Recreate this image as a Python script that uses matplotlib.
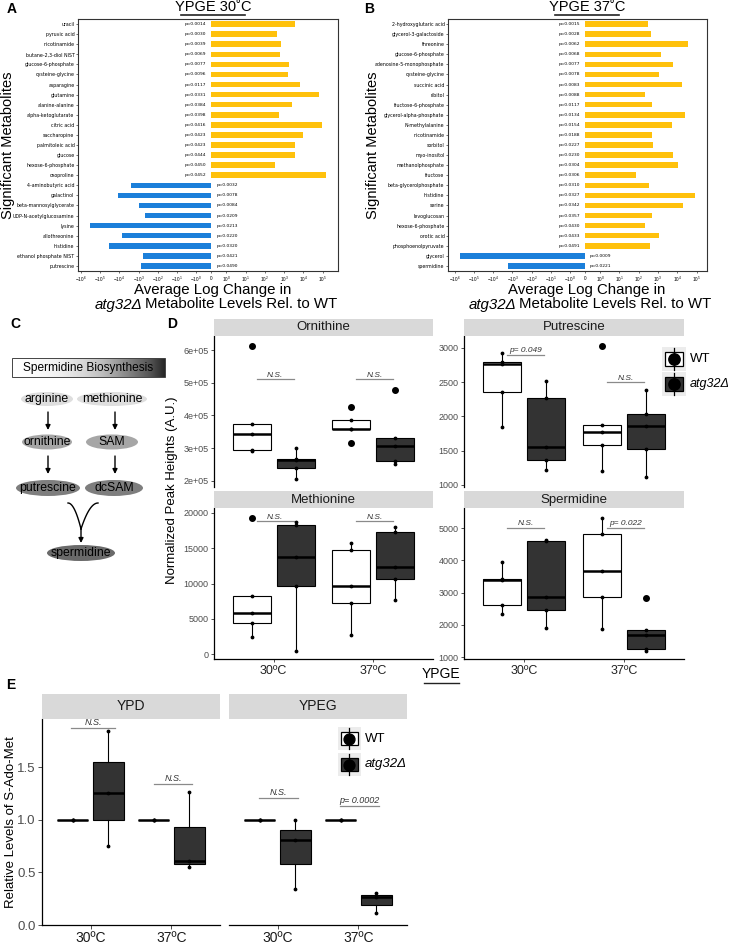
import numpy as np
import matplotlib.pyplot as plt
from matplotlib.patches import Ellipse, Rectangle

plt.rcParams['font.family'] = ['Liberation Sans', 'DejaVu Sans']

W, H = 729, 949

# ---------------- data ----------------
a_names = ['uracil', 'pyruvic acid', 'nicotinamide', 'butane-2,3-diol NIST', 'glucose-6-phosphate',
           'cysteine-glycine', 'asparagine', 'glutamine', 'alanine-alanine', 'alpha-ketoglutarate',
           'citric acid', 'saccharopine', 'palmitoleic acid', 'glucose', 'hexose-6-phosphate',
           'oxoproline', '4-aminobutyric acid', 'galactinol', 'beta-mannosylglycerate',
           'UDP-N-acetylglucosamine', 'lysine', 'allothreonine', 'histidine',
           'ethanol phosphate NIST', 'putrescine']
a_vals = [3900, 440, 710, 630, 1900, 1650, 7100, 63000, 2700, 560, 91000, 10000, 3900, 3500, 350,
          150000, -2600, -12000, -1000, -450, -340000, -6900, -35000, -570, -720]
a_pvals = ['0.0014', '0.0030', '0.0039', '0.0069', '0.0077', '0.0096', '0.0117', '0.0331', '0.0384',
           '0.0398', '0.0416', '0.0423', '0.0423', '0.0444', '0.0450', '0.0452', '0.0032', '0.0078',
           '0.0084', '0.0209', '0.0213', '0.0220', '0.0320', '0.0421', '0.0490']

b_names = ['2-hydroxyglutaric acid', 'glycerol-3-galactoside', 'threonine', 'glucose-6-phosphate',
           'adenosine-5-monophosphate', 'cysteine-glycine', 'succinic acid', 'ribitol',
           'fructose-6-phosphate', 'glycerol-alpha-phosphate', 'N-methylalanine', 'nicotinamide',
           'sorbitol', 'myo-inositol', 'methanolphosphate', 'fructose', 'beta-glycerolphosphate',
           'histidine', 'serine', 'levoglucosan', 'hexose-6-phosphate', 'orotic acid',
           'phosphoenolpyruvate', 'glycerol', 'spermidine']
b_vals = [300, 440, 35000, 1500, 6300, 1150, 17000, 210, 490, 24000, 5600, 490, 560, 6300, 11500,
          71, 350, 80000, 19000, 490, 210, 1150, 390, -540000, -1660]
b_pvals = ['0.0015', '0.0028', '0.0062', '0.0068', '0.0077', '0.0078', '0.0083', '0.0088', '0.0117',
           '0.0134', '0.0154', '0.0188', '0.0227', '0.0230', '0.0304', '0.0306', '0.0310', '0.0327',
           '0.0342', '0.0357', '0.0430', '0.0433', '0.0491', '0.0009', '0.0221']

temps = ['30ºC', '37ºC']

# panel D: observations per temperature (30, 37)
orn_wt = [[290000, 295000, 343000, 374000, 612000], [315000, 358000, 359000, 385000, 426000]]
orn_atg = [[206000, 240000, 265000, 268000, 300000], [252000, 260000, 305000, 330000, 477000]]
put_wt = [[1850, 2350, 2770, 2800, 2930], [1200, 1580, 1780, 1870, 3030]]
put_atg = [[1220, 1370, 1550, 2270, 2520], [1110, 1520, 1860, 2030, 2390]]
met_wt = [[2400, 4400, 5800, 8200, 19300], [2700, 7200, 9600, 14700, 15800]]
met_atg = [[500, 9600, 13700, 18300, 18700], [7600, 10600, 12300, 17300, 18000]]
spd_wt = [[2350, 2620, 3400, 3420, 3950], [1880, 2870, 3680, 4800, 5300]]
spd_atg = [[1900, 2450, 2870, 4600, 4620], [1200, 1250, 1680, 1830, 2840]]

# panel E
ypd_wt = [[1.0, 1.0, 1.0], [1.0, 1.0, 1.0]]
ypd_atg = [[0.75, 1.25, 1.84], [0.55, 0.61, 1.26]]
ypeg_wt = [[1.0, 1.0, 1.0], [1.0, 1.0, 1.0]]
ypeg_atg = [[0.34, 0.81, 1.0], [0.11, 0.27, 0.30]]

YELLOW = '#FFC10C'
BLUE = '#1B7FDA'
DARK = '#333333'
STRIP = '#d9d9d9'
TICKC = '#4d4d4d'

fig = plt.figure(figsize=(W / 100, H / 100), dpi=100)


def px_axes(x0, y0, x1, y1):
    return fig.add_axes([x0 / W, 1 - y1 / H, (x1 - x0) / W, (y1 - y0) / H])


# ---------------- A / B bar panels ----------------
def bar_panel(ax, names, vals, pvals, xlim):
    y = np.arange(len(names))
    vals = np.array(vals, dtype=float)
    colors = [YELLOW if v > 0 else BLUE for v in vals]
    ax.barh(y, vals, height=0.55, color=colors)
    ax.set_xscale('symlog', linthresh=1, linscale=0.7)
    ax.set_xticks([-1e6, -1e5, -1e4, -1e3, -1e2, -1e1, -1, 0, 1, 1e1, 1e2, 1e3, 1e4, 1e5])
    ax.set_xlim(*xlim)
    ax.set_ylim(len(names) - 0.5, -0.5)
    ax.set_yticks(y)
    ax.set_yticklabels(names, fontsize=3.4, family='DejaVu Sans')
    for lab in ax.get_xticklabels():
        lab.set_fontsize(3.4)
    ax.tick_params(length=1.5, width=0.4, pad=1)
    for s in ax.spines.values():
        s.set_linewidth(0.8)
        s.set_color('#333333')
    for yi, v, p in zip(y, vals, pvals):
        if v > 0:
            ax.annotate('p=' + p, (0, yi), xytext=(-3.5, 0), textcoords='offset points',
                        ha='right', va='center', fontsize=3.2, family='DejaVu Sans')
        else:
            ax.annotate('p=' + p, (0, yi), xytext=(3.5, 0), textcoords='offset points',
                        ha='left', va='center', fontsize=3.2, family='DejaVu Sans')


axA = px_axes(78, 19, 338, 271)
bar_panel(axA, a_names, a_vals, a_pvals, (-1.4e6, 6.3e5))
axB = px_axes(448, 19, 707, 271)
bar_panel(axB, b_names, b_vals, b_pvals, (-2.2e6, 3.5e5))


# ---------------- D / E box panels ----------------
def draw_box(ax, data, pos, color, width, fsize):
    ax.boxplot([data], positions=[pos], widths=width, patch_artist=True, whis=1.5,
               manage_ticks=False,
               boxprops=dict(facecolor=color, edgecolor='black', linewidth=0.8),
               medianprops=dict(color='black', linewidth=1.8),
               whiskerprops=dict(color='black', linewidth=0.8),
               capprops=dict(linewidth=0),
               flierprops=dict(marker='o', markerfacecolor='black', markeredgecolor='black',
                               markersize=fsize))
    ax.scatter([pos] * len(data), data, s=3, color='black', zorder=3)


def box_panel(ax, wt, atg, ylim, yticks, ylabels, bottom, tsize, fsize, left=True):
    for i in range(len(wt)):
        draw_box(ax, wt[i], i + 1 - 0.22, 'white', 0.38, fsize)
        draw_box(ax, atg[i], i + 1 + 0.22, DARK, 0.38, fsize)
    ax.set_xlim(0.4, 2.6)
    ax.set_ylim(*ylim)
    ax.spines['top'].set_visible(False)
    ax.spines['right'].set_visible(False)
    ax.patch.set_alpha(0)
    if left:
        ax.set_yticks(yticks)
        ax.set_yticklabels(ylabels, fontsize=tsize, color=TICKC)
    else:
        ax.spines['left'].set_visible(False)
        ax.set_yticks([])
    if bottom:
        ax.set_xticks([1, 2])
        ax.set_xticklabels(temps, fontsize=tsize + 2.5, color='#222222')
    else:
        ax.spines['bottom'].set_visible(False)
        ax.set_xticks([])
    for s in ax.spines.values():
        s.set_linewidth(0.9)
    ax.tick_params(length=2.5, width=0.6, color='#333333', pad=1.5)


def sig(ax, xc, y, label, lo, hi, size):
    ax.plot([xc - lo, xc + hi], [y, y], color='#8a8a8a', lw=0.9)
    ax.annotate(label, ((2 * xc - lo + hi) / 2, y), xytext=(0, 0.5), textcoords='offset points',
                ha='center', va='bottom', fontsize=size, style='italic', color='#333333')


axO = px_axes(214, 336, 433, 487)
box_panel(axO, orn_wt, orn_atg, (1.81e5, 6.43e5), [2e5, 3e5, 4e5, 5e5, 6e5],
          ['2e+05', '3e+05', '4e+05', '5e+05', '6e+05'], False, 6.5, 4)
sig(axO, 1, 5.1e5, 'N.S.', 0.17, 0.2, 6)
sig(axO, 2, 5.1e5, 'N.S.', 0.17, 0.2, 6)

axP = px_axes(464, 336, 684, 487)
box_panel(axP, put_wt, put_atg, (970, 3175), [1000, 1500, 2000, 2500, 3000],
          ['1000', '1500', '2000', '2500', '3000'], False, 6.5, 4)
sig(axP, 1, 2900, 'p= 0.049', 0.17, 0.2, 6)
sig(axP, 2, 2500, 'N.S.', 0.17, 0.2, 6)

axM = px_axes(214, 508, 433, 659)
box_panel(axM, met_wt, met_atg, (-700, 20700), [0, 5000, 10000, 15000, 20000],
          ['0', '5000', '10000', '15000', '20000'], True, 6.5, 4)
sig(axM, 1, 18800, 'N.S.', 0.17, 0.2, 6)
sig(axM, 2, 18800, 'N.S.', 0.17, 0.2, 6)

axS = px_axes(464, 508, 684, 659)
box_panel(axS, spd_wt, spd_atg, (940, 5620), [1000, 2000, 3000, 4000, 5000],
          ['1000', '2000', '3000', '4000', '5000'], True, 6.5, 4)
sig(axS, 1, 5000, 'N.S.', 0.17, 0.2, 6)
sig(axS, 2, 5000, 'p= 0.022', 0.17, 0.2, 6)

axE1 = px_axes(42, 719, 220, 925)
box_panel(axE1, ypd_wt, ypd_atg, (0, 1.956), [0, 0.5, 1.0, 1.5],
          ['0.0', '0.5', '1.0', '1.5'], True, 9.5, 4.5)
sig(axE1, 1, 1.87, 'N.S.', 0.24, 0.3, 6.5)
sig(axE1, 2, 1.34, 'N.S.', 0.22, 0.26, 6.5)

axE2 = px_axes(229, 719, 407, 925)
box_panel(axE2, ypeg_wt, ypeg_atg, (0, 1.956), [], [], True, 9.5, 4.5, left=False)
sig(axE2, 1, 1.21, 'N.S.', 0.23, 0.25, 6.5)
sig(axE2, 2, 1.13, 'p= 0.0002', 0.23, 0.25, 6.5)
for a in (axE1, axE2):
    a.tick_params(length=3)
    for lab in a.get_xticklabels():
        lab.set_fontsize(10)
        lab.set_color('#1a1a1a')

# ---------------- overlay (labels, diagram, legends) ----------------
ov = fig.add_axes([0, 0, 1, 1], zorder=10)
ov.axis('off')
ov.set_xlim(0, W)
ov.set_ylim(H, 0)
renderer = fig.canvas.get_renderer()


def txt(x, y, s, **kw):
    kw.setdefault('ha', 'center')
    kw.setdefault('va', 'center')
    return ov.text(x, y, s, **kw)


def mixed(x, y, parts, fontsize, gap=3):
    # centred line made of pieces with their own font style, on one baseline
    pieces = [txt(0, y, s, fontsize=fontsize, style=st, ha='left', va='baseline')
              for s, st in parts]
    widths = [p.get_window_extent(renderer).width for p in pieces]
    cur = x - (sum(widths) + gap * (len(widths) - 1)) / 2
    for p, w in zip(pieces, widths):
        p.set_x(cur)
        cur += w + gap


def underline(x0, x1, y, lw=1.0):
    ov.plot([x0, x1], [y, y], color='#222222', lw=lw)


# panel letters
for lx, ly, l in [(12, 9, 'A'), (369, 9, 'B'), (15, 324, 'C'), (172, 324, 'D'), (11, 685, 'E')]:
    txt(lx, ly, l, fontsize=10, fontweight='bold')

# A / B titles and labels
for cx, t in [(213, 'YPGE 30˚C'), (587, 'YPGE 37˚C')]:
    txt(cx, 7, t, fontsize=10.5)
    underline(cx - 32, cx + 32, 14.5, 1.2)
    txt(cx, 290, 'Average Log Change in', fontsize=10.8)
    mixed(cx + 3, 308.5, [('atg32Δ', 'italic'), ('Metabolite Levels Rel. to WT', 'normal')], 10.8)
txt(8, 145, 'Significant Metabolites', fontsize=10.5, rotation=90)
txt(373, 145, 'Significant Metabolites', fontsize=10.5, rotation=90)

# panel C diagram
grad = np.linspace(0, 1, 256) ** 1.6
ov.imshow(grad[None, :], cmap='Greys', vmin=0, vmax=1.15, aspect='auto',
          extent=(12, 165, 377, 358), zorder=1)
ov.add_patch(Rectangle((12, 358), 153, 19, fill=False, edgecolor='#444444', lw=0.7, zorder=2))
txt(88, 367.5, 'Spermidine Biosynthesis', fontsize=8.6, zorder=3)

ellipses = [(47, 399, 52, 14, '#dedede', 'arginine'), (112, 399, 70, 14, '#dedede', 'methionine'),
            (47, 442, 50, 15, '#a6a6a6', 'ornithine'), (112, 442, 52, 15, '#a6a6a6', 'SAM'),
            (48, 488, 64, 16, '#7e7e7e', 'putrescine'), (114, 488, 58, 16, '#7e7e7e', 'dcSAM'),
            (81, 553, 68, 16, '#6a6a6a', 'spermidine')]
for cx, cy, w, h, c, t in ellipses:
    ov.add_patch(Ellipse((cx, cy), w, h, facecolor=c, edgecolor='none', zorder=2))
    txt(cx, cy, t, fontsize=8.8, zorder=3)

arrow = dict(arrowstyle='-|>', color='black', lw=1.0, mutation_scale=7, shrinkA=0, shrinkB=0)
for ax_x, y0, y1 in [(48, 412, 430), (115, 412, 430), (48, 456, 474), (115, 456, 474)]:
    ov.annotate('', xy=(ax_x, y1), xytext=(ax_x, y0), arrowprops=arrow)
t = np.linspace(0, 1, 30)
ov.plot(68 + 13 * t ** 0.8, 503 + 26 * t ** 1.6, color='black', lw=1.0)
ov.plot(98 - 17 * t ** 0.8, 503 + 26 * t ** 1.6, color='black', lw=1.0)
ov.annotate('', xy=(81, 543), xytext=(81, 527), arrowprops=arrow)

# D strips, label, legend
for x0, x1, y0, y1, s in [(214, 433, 319, 336, 'Ornithine'), (464, 684, 319, 336, 'Putrescine'),
                          (214, 433, 491, 508, 'Methionine'), (464, 684, 491, 508, 'Spermidine')]:
    ov.add_patch(Rectangle((x0, y0), x1 - x0, y1 - y0, facecolor=STRIP, edgecolor='none'))
    txt((x0 + x1) / 2, (y0 + y1) / 2, s, fontsize=9.5, color='#1a1a1a')
txt(172, 490, 'Normalized Peak Heights (A.U.)', fontsize=9.5, rotation=90)
txt(441, 674, 'YPGE', fontsize=10)
underline(424, 459, 683, 1.0)

# E strips, label
for x0, x1, s in [(42, 220, 'YPD'), (229, 407, 'YPEG')]:
    ov.add_patch(Rectangle((x0, 694), x1 - x0, 25, facecolor=STRIP, edgecolor='none'))
    txt((x0 + x1) / 2, 706.5, s, fontsize=10, color='#1a1a1a')
txt(11, 822, 'Relative Levels of S-Ado-Met', fontsize=9.5, rotation=90)


def legend_key(x, y, size, color, label, fs):
    ov.add_patch(Rectangle((x, y), size, size, facecolor='#ececec', edgecolor='none'))
    ov.add_patch(Rectangle((x + size * 0.12, y + size * 0.22), size * 0.76, size * 0.56,
                           facecolor=color, edgecolor='black', lw=0.9))
    ov.plot([x + size / 2, x + size / 2], [y + size * 0.04, y + size * 0.96], color='black', lw=0.9)
    ov.plot([x + size / 2], [y + size / 2], 'o', color='black', markersize=size * 0.34)
    style = 'normal' if label == 'WT' else 'italic'
    txt(x + size + 4, y + size / 2, label, fontsize=fs, ha='left', style=style)


legend_key(662, 347, 24, 'white', 'WT', 9.5)
legend_key(662, 372, 24, DARK, 'atg32Δ', 9)
legend_key(338, 727, 23, 'white', 'WT', 9.5)
legend_key(338, 753, 23, DARK, 'atg32Δ', 9.5)

fig.savefig('out.png', dpi=100)
